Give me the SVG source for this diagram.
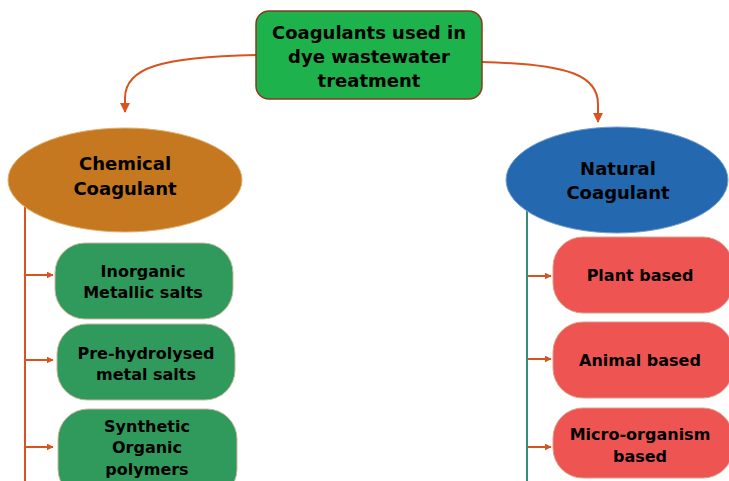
<svg xmlns="http://www.w3.org/2000/svg" width="729" height="481" viewBox="0 0 729 481">
  <defs>
    <marker id="arrow" viewBox="0 0 10 10" refX="9" refY="5" markerWidth="10" markerHeight="10" markerUnits="userSpaceOnUse" orient="auto">
      <path d="M0,0 L10,5 L0,10 z" fill="#d9531e"/>
    </marker>
    <marker id="arrowS" viewBox="0 0 10 10" refX="9" refY="5" markerWidth="7" markerHeight="7" markerUnits="userSpaceOnUse" orient="auto">
      <path d="M0,0 L10,5 L0,10 z" fill="#d9531e"/>
    </marker>
    <style>
      text { font-family: "DejaVu Sans", Verdana, sans-serif; font-weight: bold; fill: #000; text-anchor: middle; }
      .t1 { font-size: 18px; }
      .t2 { font-size: 18px; }
      .t3 { font-size: 16px; }
      .link { fill: none; stroke: #d9531e; stroke-width: 2; }
      .spineL { fill: none; stroke: #d9531e; stroke-width: 2; }
      .spineR { fill: none; stroke: #3a8a7a; stroke-width: 2; }
      .greenpill { fill: #2f9a5c; stroke: #c8b89a; stroke-width: 1; }
      .redpill { fill: #ee5452; stroke: #d9a08a; stroke-width: 1; }
    </style>
  </defs>
  <rect width="729" height="481" fill="#ffffff"/>

  <!-- connectors -->
  <g id="connectors">
    <path class="link" d="M256,55 C160,57 125,68 125,98 L125,112" marker-end="url(#arrow)"/>
    <path class="link" d="M482,62 C570,64 598,76 598,104 L598,122" marker-end="url(#arrow)"/>
    <line class="spineL" x1="25" y1="200" x2="25" y2="481"/>
    <line class="link" x1="25" y1="275" x2="53" y2="275" marker-end="url(#arrowS)"/>
    <line class="link" x1="25" y1="360" x2="53" y2="360" marker-end="url(#arrowS)"/>
    <line class="link" x1="25" y1="447" x2="53" y2="447" marker-end="url(#arrowS)"/>
    <line class="spineR" x1="527" y1="210" x2="527" y2="481"/>
    <line class="link" x1="528" y1="276" x2="551" y2="276" marker-end="url(#arrowS)"/>
    <line class="link" x1="528" y1="359" x2="551" y2="359" marker-end="url(#arrowS)"/>
    <line class="link" x1="528" y1="447" x2="551" y2="447" marker-end="url(#arrowS)"/>
  </g>

  <!-- root -->
  <g id="root">
    <rect x="256" y="11" width="226" height="88" rx="13" fill="#1db24c" stroke="#8a3a20" stroke-width="1.5"/>
    <text class="t1" x="369" y="39">Coagulants used in</text>
    <text class="t1" x="369" y="63">dye wastewater</text>
    <text class="t1" x="369" y="87">treatment</text>
  </g>

  <!-- chemical branch -->
  <g id="chemical">
    <ellipse cx="125" cy="180" rx="117" ry="52" fill="#c5781f" stroke="#e0b070" stroke-width="1"/>
    <text class="t2" x="125" y="170">Chemical</text>
    <text class="t2" x="125" y="195">Coagulant</text>
  </g>
  <g id="inorganic">
    <rect class="greenpill" x="55" y="243" width="178" height="76" rx="30"/>
    <text class="t3" x="143" y="277">Inorganic</text>
    <text class="t3" x="143" y="298">Metallic salts</text>
  </g>
  <g id="prehydrolysed">
    <rect class="greenpill" x="57" y="324" width="178" height="76" rx="30"/>
    <text class="t3" x="146" y="359">Pre-hydrolysed</text>
    <text class="t3" x="146" y="380">metal salts</text>
  </g>
  <g id="synthetic">
    <rect class="greenpill" x="58" y="409" width="179" height="90" rx="30"/>
    <text class="t3" x="147" y="432">Synthetic</text>
    <text class="t3" x="147" y="453">Organic</text>
    <text class="t3" x="147" y="475">polymers</text>
  </g>

  <!-- natural branch -->
  <g id="natural">
    <ellipse cx="617" cy="180" rx="111" ry="53" fill="#2468b0" stroke="#7aa0d0" stroke-width="1"/>
    <text class="t2" x="618" y="175">Natural</text>
    <text class="t2" x="618" y="199">Coagulant</text>
  </g>
  <g id="plant">
    <rect class="redpill" x="553" y="237" width="180" height="76" rx="30"/>
    <text class="t3" x="640" y="281">Plant based</text>
  </g>
  <g id="animal">
    <rect class="redpill" x="553" y="322" width="180" height="76" rx="30"/>
    <text class="t3" x="640" y="366">Animal based</text>
  </g>
  <g id="microorganism">
    <rect class="redpill" x="553" y="408" width="180" height="70" rx="30"/>
    <text class="t3" x="640" y="440">Micro-organism</text>
    <text class="t3" x="640" y="462">based</text>
  </g>
</svg>
